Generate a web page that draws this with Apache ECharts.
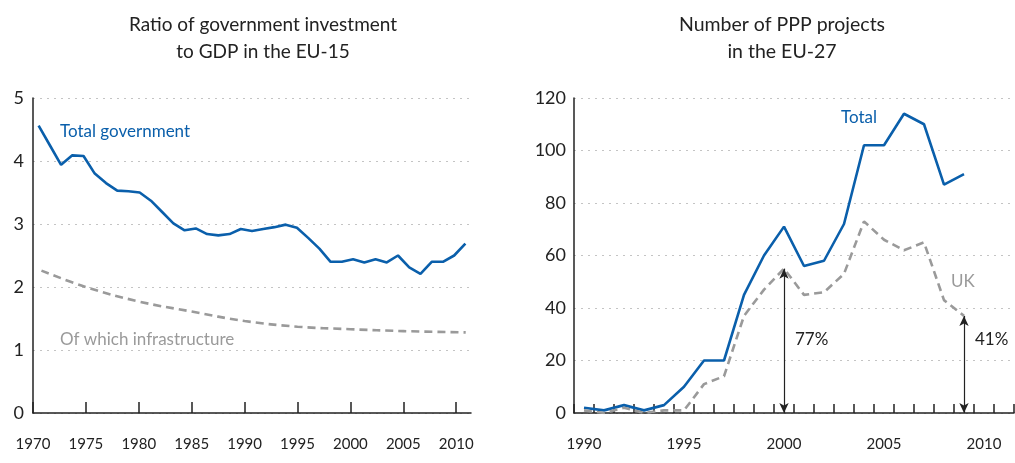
<!DOCTYPE html>
<html>
<head>
<meta charset="utf-8">
<script src="https://cdn.jsdelivr.net/npm/echarts@6/dist/echarts.min.js"></script>
<style>
  html, body { margin: 0; padding: 0; background: #fff; }
  #chart { width: 1015px; height: 463px; }
</style>
</head>
<body>
<div id="chart"></div>
<script>
// left panel: government investment, % of GDP (EU-15)
// the source plots these points on its own category scale, the year axis is drawn separately
const govPoints = ['1970','1971','1972','1973','1974','1975','1976','1977','1978','1979',
  '1980','1981','1982','1983','1984','1985','1986','1987','1988','1989',
  '1990','1991','1992','1993','1994','1995','1996','1997','1998','1999',
  '2000','2001','2002','2003','2004','2005','2006','2007','2008']
const govTotal = [4.56, 4.25, 3.94, 4.09, 4.08, 3.80, 3.65, 3.53, 3.52, 3.50,
  3.37, 3.19, 3.01, 2.90, 2.93, 2.84, 2.82, 2.84, 2.92, 2.89,
  2.92, 2.95, 2.99, 2.94, 2.78, 2.61, 2.40, 2.40, 2.44, 2.39,
  2.44, 2.39, 2.50, 2.31, 2.21, 2.40, 2.40, 2.50, 2.69]
const infraYears = [1970.8, 1975, 1980, 1985, 1990, 1995, 2000, 2005, 2010.9]
const infraShare = [2.26, 2.00, 1.77, 1.61, 1.46, 1.37, 1.33, 1.30, 1.28]

// right panel: number of PPP projects (EU-27)
const pppYears = ['1990','1991','1992','1993','1994','1995','1996','1997','1998','1999',
  '2000','2001','2002','2003','2004','2005','2006','2007','2008','2009','2010','2011']
const pppTotal = [2, 1, 3, 1, 3, 10, 20, 20, 45, 60, 71, 56, 58, 72, 102, 102, 114, 110, 87, 91]
const pppUK = [1, 0, 2, 0, 1, 1, 11, 14, 37, 47, 55, 45, 46, 53, 73, 66, 62, 65, 43, 37]
const shareYears = ['2000', '2009']

const blue = '#0a5fab'
const grey = '#9a9a9a'
const ink = '#222'
const font = 'Lato, "Open Sans", sans-serif'

const myChart = echarts.init(document.getElementById('chart'))

// double arrows from 0 up to the UK value
const arrows = shareYears.map(y => {
  const v = pppUK[pppYears.indexOf(y)]
  return [{ coord: [y, 0] }, { coord: [y, v] }]
})

let option = {
  animation: false,
  title: [
    {
      text: 'Ratio of government investment\nto GDP in the EU-15',
      left: 258, top: 6, textAlign: 'center',
      textStyle: { fontFamily: font, fontSize: 19, fontWeight: 'normal', color: ink, lineHeight: 27 }
    },
    {
      text: 'Number of PPP projects\nin the EU-27',
      left: 777, top: 6, textAlign: 'center',
      textStyle: { fontFamily: font, fontSize: 19.5, fontWeight: 'normal', color: ink, lineHeight: 27 }
    }
  ],
  grid: [
    { left: 33, top: 98, width: 438, height: 315 },
    { left: 574, top: 98, width: 440, height: 315 }
  ],
  xAxis: [
    {
      gridIndex: 0, type: 'value', min: 1970, max: 2011.4, interval: 5,
      axisLine: { show: true, lineStyle: { color: ink, width: 1.5 } },
      axisTick: { show: true, inside: true, length: 11, lineStyle: { color: ink, width: 1.5 } },
      axisLabel: { fontFamily: font, fontSize: 15, color: ink, margin: 24,
        formatter: v => String(v) },
      splitLine: { show: false }
    },
    {
      gridIndex: 0, type: 'category', data: govPoints, boundaryGap: true, show: false
    },
    {
      gridIndex: 1, type: 'category', data: pppYears, boundaryGap: true,
      axisLine: { show: true, lineStyle: { color: ink, width: 1.5 } },
      axisTick: { show: true, inside: true, length: 9, interval: 0, lineStyle: { color: ink, width: 1.5 } },
      axisLabel: { fontFamily: font, fontSize: 15, color: ink, margin: 24, interval: 4 },
      splitLine: { show: false }
    }
  ],
  yAxis: [
    {
      gridIndex: 0, type: 'value', min: 0, max: 5, interval: 1,
      axisLine: { show: true, lineStyle: { color: ink, width: 1.5 } },
      axisTick: { show: false },
      axisLabel: { fontFamily: font, fontSize: 18, color: ink, margin: 9 },
      splitLine: { show: true, lineStyle: { color: '#c4c4c4', type: [2, 5], width: 1.2 } }
    },
    {
      gridIndex: 1, type: 'value', min: 0, max: 120, interval: 20,
      axisLine: { show: true, lineStyle: { color: ink, width: 1.5 } },
      axisTick: { show: false },
      axisLabel: { fontFamily: font, fontSize: 18, color: ink, margin: 8 },
      splitLine: { show: true, lineStyle: { color: '#c4c4c4', type: [2, 5], width: 1.2 } }
    }
  ],
  series: [
    {
      name: 'Total government', type: 'line', xAxisIndex: 1, yAxisIndex: 0,
      data: govTotal, symbol: 'none', z: 3,
      lineStyle: { color: blue, width: 2.6 }
    },
    {
      name: 'Of which infrastructure', type: 'line', xAxisIndex: 0, yAxisIndex: 0,
      data: infraYears.map((y, i) => [y, infraShare[i]]), symbol: 'none', smooth: 0.4,
      lineStyle: { color: grey, width: 2.6, type: [8, 5] }
    },
    {
      name: 'Total', type: 'line', xAxisIndex: 2, yAxisIndex: 1,
      data: pppTotal, symbol: 'none', z: 3,
      lineStyle: { color: blue, width: 2.6 }
    },
    {
      name: 'UK', type: 'line', xAxisIndex: 2, yAxisIndex: 1,
      data: pppUK, symbol: 'none',
      lineStyle: { color: grey, width: 2.6, type: [8, 5] },
      markLine: {
        silent: true,
        symbol: ['arrow', 'arrow'],
        symbolSize: [7, 10],
        label: { show: false },
        lineStyle: { color: ink, width: 1.2, type: 'solid' },
        data: arrows
      }
    }
  ]
}

myChart.setOption(option)

// text labels next to the lines, and the UK share at the arrows
const shareLabels = shareYears.map(y => {
  const i = pppYears.indexOf(y)
  const p = myChart.convertToPixel({ xAxisIndex: 2, yAxisIndex: 1 }, [y, 28])
  return {
    type: 'text', x: p[0] + 11, y: p[1],
    style: { text: Math.round(pppUK[i] / pppTotal[i] * 100) + '%', fill: ink,
      font: '17px ' + font, textVerticalAlign: 'middle' }
  }
})

myChart.setOption({
  graphic: [
    { type: 'text', x: 60, y: 132, style: { text: 'Total government', fill: blue, font: '17px ' + font, textVerticalAlign: 'middle' } },
    { type: 'text', x: 60, y: 340, style: { text: 'Of which infrastructure', fill: grey, font: '17px ' + font, textVerticalAlign: 'middle' } },
    { type: 'text', x: 841, y: 118, style: { text: 'Total', fill: blue, font: '17px ' + font, textVerticalAlign: 'middle' } },
    { type: 'text', x: 951, y: 282, style: { text: 'UK', fill: grey, font: '17px ' + font, textVerticalAlign: 'middle' } }
  ].concat(shareLabels)
})

window.addEventListener('resize', function () {
  myChart.resize()
})
</script>
</body>
</html>
